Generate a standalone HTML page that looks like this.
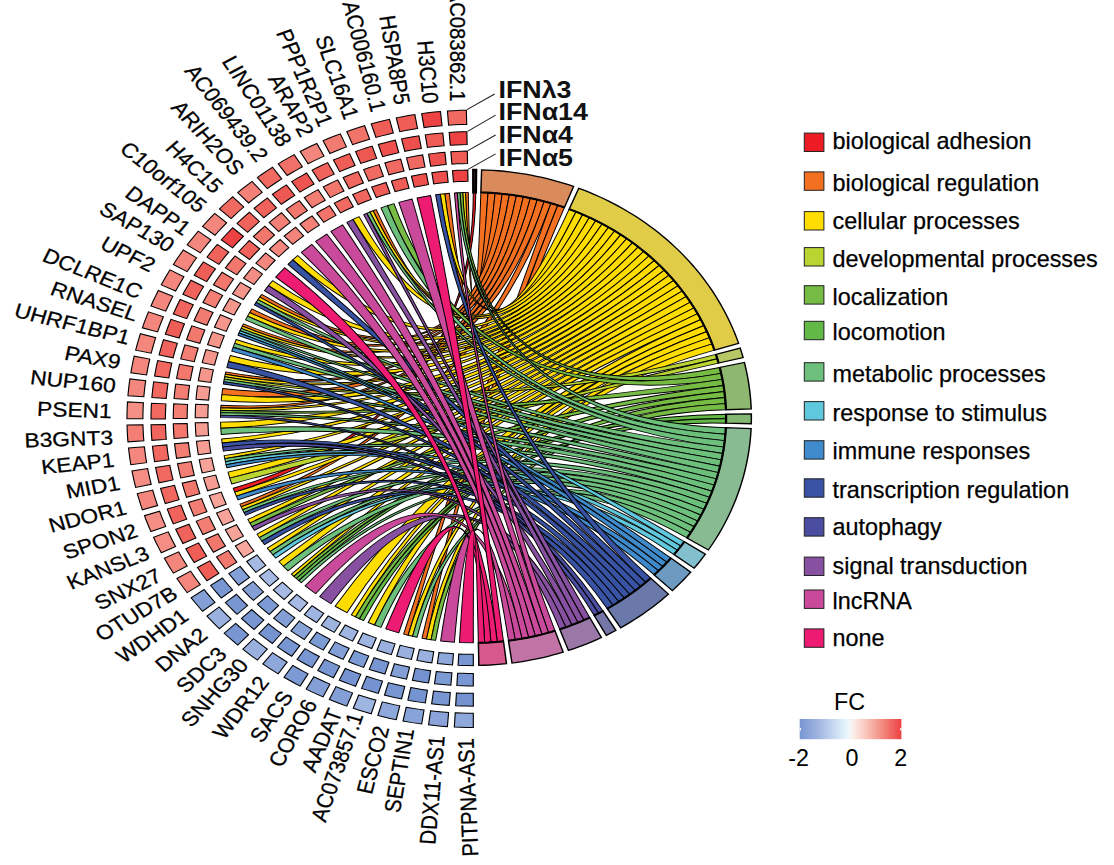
<!DOCTYPE html>
<html><head><meta charset="utf-8"><title>GOChord</title>
<style>html,body{margin:0;padding:0;background:#fff;}svg{display:block;}text{font-family:"Liberation Sans",sans-serif;}</style>
</head><body>
<svg width="1114" height="865" viewBox="0 0 1114 865">
<g transform="translate(473.3,417.6) scale(1.122,1)">
<g stroke="#000" stroke-width="0.9" stroke-linejoin="round">
<path d="M0,-225.3 Q0,0 -213.92,70.7 L-212.59,74.6 Q0,0 2.23,-225.29Z" fill="#ED1C24"/>
<path d="M6.74,-225.2 Q0,0 -4.51,-225.25 L-6.97,-225.19 Q0,0 13.1,-224.92Z" fill="#F37021"/>
<path d="M13.1,-224.92 Q0,0 -21.33,-224.29 L-25.42,-223.86 Q0,0 19.45,-224.46Z" fill="#F37021"/>
<path d="M19.45,-224.46 Q0,0 -86.49,-208.04 L-89.33,-206.83 Q0,0 25.78,-223.82Z" fill="#F37021"/>
<path d="M25.78,-223.82 Q0,0 -188.65,-123.17 L-190.32,-120.57 Q0,0 32.09,-223Z" fill="#F37021"/>
<path d="M32.09,-223 Q0,0 -197.33,-108.73 L-199.28,-105.1 Q0,0 38.38,-222.01Z" fill="#F37021"/>
<path d="M38.38,-222.01 Q0,0 -204.9,-93.67 L-205.92,-91.42 Q0,0 44.64,-220.83Z" fill="#F37021"/>
<path d="M44.64,-220.83 Q0,0 -220.61,-45.73 L-221.1,-43.31 Q0,0 50.86,-219.48Z" fill="#F37021"/>
<path d="M50.86,-219.48 Q0,0 -223.41,-29.12 L-224.12,-22.99 Q0,0 57.04,-217.96Z" fill="#F37021"/>
<path d="M57.04,-217.96 Q0,0 -224.96,-12.34 L-225.08,-9.87 Q0,0 63.17,-216.26Z" fill="#F37021"/>
<path d="M63.17,-216.26 Q0,0 -208.04,86.49 L-206.83,89.33 Q0,0 69.26,-214.39Z" fill="#F37021"/>
<path d="M69.26,-214.39 Q0,0 -62.09,216.58 L-58.12,217.67 Q0,0 75.28,-212.35Z" fill="#F37021"/>
<path d="M75.28,-212.35 Q0,0 -45.73,220.61 L-41.69,221.41 Q0,0 81.25,-210.14Z" fill="#F37021"/>
<path d="M85.44,-208.47 Q0,0 -6.97,-225.19 L-9.44,-225.1 Q0,0 91.5,-205.88Z" fill="#FFDD00"/>
<path d="M91.5,-205.88 Q0,0 -25.42,-223.86 L-29.5,-223.36 Q0,0 97.48,-203.12Z" fill="#FFDD00"/>
<path d="M97.48,-203.12 Q0,0 -89.33,-206.83 L-92.16,-205.59 Q0,0 103.38,-200.18Z" fill="#FFDD00"/>
<path d="M103.38,-200.18 Q0,0 -101.79,-200.99 L-107.26,-198.13 Q0,0 109.19,-197.07Z" fill="#FFDD00"/>
<path d="M109.19,-197.07 Q0,0 -156.52,-162.06 L-160.9,-157.71 Q0,0 114.91,-193.79Z" fill="#FFDD00"/>
<path d="M114.91,-193.79 Q0,0 -178.92,-136.92 L-182.6,-131.97 Q0,0 120.53,-190.35Z" fill="#FFDD00"/>
<path d="M120.53,-190.35 Q0,0 -190.32,-120.57 L-191.96,-117.95 Q0,0 126.05,-186.74Z" fill="#FFDD00"/>
<path d="M126.05,-186.74 Q0,0 -199.28,-105.1 L-201.17,-101.45 Q0,0 131.45,-182.98Z" fill="#FFDD00"/>
<path d="M131.45,-182.98 Q0,0 -205.92,-91.42 L-206.91,-89.16 Q0,0 136.75,-179.05Z" fill="#FFDD00"/>
<path d="M136.75,-179.05 Q0,0 -211.33,-78.1 L-212.72,-74.23 Q0,0 141.93,-174.98Z" fill="#FFDD00"/>
<path d="M141.93,-174.98 Q0,0 -216.58,-62.09 L-218.2,-56.13 Q0,0 146.99,-170.75Z" fill="#FFDD00"/>
<path d="M146.99,-170.75 Q0,0 -221.1,-43.31 L-221.56,-40.88 Q0,0 151.92,-166.38Z" fill="#FFDD00"/>
<path d="M151.92,-166.38 Q0,0 -224.12,-22.99 L-224.67,-16.84 Q0,0 156.72,-161.86Z" fill="#FFDD00"/>
<path d="M156.72,-161.86 Q0,0 -225.08,-9.87 L-225.18,-7.41 Q0,0 161.39,-157.21Z" fill="#FFDD00"/>
<path d="M161.39,-157.21 Q0,0 -225.25,4.51 L-225.05,10.68 Q0,0 165.91,-152.42Z" fill="#FFDD00"/>
<path d="M165.91,-152.42 Q0,0 -224.29,21.33 L-223.86,25.42 Q0,0 170.3,-147.5Z" fill="#FFDD00"/>
<path d="M170.3,-147.5 Q0,0 -222.07,38.03 L-221.53,41.07 Q0,0 174.54,-142.46Z" fill="#FFDD00"/>
<path d="M174.54,-142.46 Q0,0 -218.6,54.52 L-217.03,60.49 Q0,0 178.64,-137.29Z" fill="#FFDD00"/>
<path d="M178.64,-137.29 Q0,0 -212.59,74.6 L-211.19,78.47 Q0,0 182.57,-132.01Z" fill="#FFDD00"/>
<path d="M182.57,-132.01 Q0,0 -206.83,89.33 L-205.59,92.16 Q0,0 186.36,-126.61Z" fill="#FFDD00"/>
<path d="M186.36,-126.61 Q0,0 -200.99,101.79 L-199.1,105.45 Q0,0 189.98,-121.11Z" fill="#FFDD00"/>
<path d="M189.98,-121.11 Q0,0 -192.82,116.53 L-190.66,120.03 Q0,0 193.44,-115.5Z" fill="#FFDD00"/>
<path d="M193.44,-115.5 Q0,0 -183.58,130.61 L-181.16,133.94 Q0,0 196.74,-109.79Z" fill="#FFDD00"/>
<path d="M196.74,-109.79 Q0,0 -173.3,143.97 L-169.29,148.66 Q0,0 199.87,-103.99Z" fill="#FFDD00"/>
<path d="M199.87,-103.99 Q0,0 -162.06,156.52 L-159.9,158.72 Q0,0 202.82,-98.1Z" fill="#FFDD00"/>
<path d="M202.82,-98.1 Q0,0 -123.17,188.65 L-112.65,195.12 Q0,0 205.6,-92.13Z" fill="#FFDD00"/>
<path d="M205.6,-92.13 Q0,0 -108.73,197.33 L-105.1,199.28 Q0,0 208.21,-86.07Z" fill="#FFDD00"/>
<path d="M208.21,-86.07 Q0,0 -93.67,204.9 L-88.03,207.39 Q0,0 210.64,-79.95Z" fill="#FFDD00"/>
<path d="M210.64,-79.95 Q0,0 -58.12,217.67 L-54.14,218.7 Q0,0 212.89,-73.75Z" fill="#FFDD00"/>
<path d="M212.89,-73.75 Q0,0 -41.69,221.41 L-37.64,222.13 Q0,0 214.95,-67.49Z" fill="#FFDD00"/>
<path d="M216.26,-63.18 Q0,0 -221.56,-40.88 L-221.99,-38.45 Q0,0 217.48,-58.86Z" fill="#BAD532"/>
<path d="M217.48,-58.86 Q0,0 -217.03,60.49 L-215.29,66.41 Q0,0 218.6,-54.52Z" fill="#BAD532"/>
<path d="M219.65,-50.13 Q0,0 -9.44,-225.1 L-11.91,-224.99 Q0,0 220.93,-44.17Z" fill="#76BC44"/>
<path d="M220.93,-44.17 Q0,0 -70.7,-213.92 L-76.53,-211.9 Q0,0 222.04,-38.18Z" fill="#76BC44"/>
<path d="M222.04,-38.18 Q0,0 -225.18,-7.41 L-225.25,-4.94 Q0,0 222.99,-32.16Z" fill="#76BC44"/>
<path d="M222.99,-32.16 Q0,0 -199.1,105.45 L-197.14,109.07 Q0,0 223.78,-26.11Z" fill="#76BC44"/>
<path d="M223.78,-26.11 Q0,0 -159.9,158.72 L-157.71,160.9 Q0,0 224.41,-20.04Z" fill="#76BC44"/>
<path d="M224.41,-20.04 Q0,0 -105.1,199.28 L-101.45,201.17 Q0,0 224.87,-13.96Z" fill="#76BC44"/>
<path d="M224.87,-13.96 Q0,0 -37.64,222.13 L-33.58,222.78 Q0,0 225.16,-7.87Z" fill="#76BC44"/>
<path d="M225.27,-3.37 Q0,0 -157.71,160.9 L-155.49,163.04 Q0,0 225.3,1.12Z" fill="#63B946"/>
<path d="M225.3,1.12 Q0,0 -101.45,201.17 L-97.75,202.99 Q0,0 225.23,5.6Z" fill="#63B946"/>
<path d="M225.07,10.11 Q0,0 -11.91,-224.99 L-14.37,-224.84 Q0,0 224.69,16.59Z" fill="#6DC07C"/>
<path d="M224.69,16.59 Q0,0 -76.53,-211.9 L-82.31,-209.73 Q0,0 224.12,23.05Z" fill="#6DC07C"/>
<path d="M224.12,23.05 Q0,0 -92.16,-205.59 L-94.96,-204.31 Q0,0 223.36,29.5Z" fill="#6DC07C"/>
<path d="M223.36,29.5 Q0,0 -191.96,-117.95 L-193.55,-115.31 Q0,0 222.42,35.92Z" fill="#6DC07C"/>
<path d="M222.42,35.92 Q0,0 -201.17,-101.45 L-202.99,-97.75 Q0,0 221.29,42.31Z" fill="#6DC07C"/>
<path d="M221.29,42.31 Q0,0 -206.91,-89.16 L-207.87,-86.89 Q0,0 219.98,48.67Z" fill="#6DC07C"/>
<path d="M219.98,48.67 Q0,0 -212.72,-74.23 L-214.04,-70.33 Q0,0 218.49,54.98Z" fill="#6DC07C"/>
<path d="M218.49,54.98 Q0,0 -221.99,-38.45 L-222.4,-36.02 Q0,0 216.81,61.26Z" fill="#6DC07C"/>
<path d="M216.81,61.26 Q0,0 -225.25,-4.94 L-225.29,-2.47 Q0,0 214.96,67.48Z" fill="#6DC07C"/>
<path d="M214.96,67.48 Q0,0 -225.05,10.68 L-224.67,16.84 Q0,0 212.93,73.64Z" fill="#6DC07C"/>
<path d="M212.93,73.64 Q0,0 -221.53,41.07 L-220.94,44.1 Q0,0 210.72,79.74Z" fill="#6DC07C"/>
<path d="M210.72,79.74 Q0,0 -205.59,92.16 L-204.31,94.96 Q0,0 208.33,85.78Z" fill="#6DC07C"/>
<path d="M208.33,85.78 Q0,0 -190.66,120.03 L-188.44,123.49 Q0,0 205.77,91.74Z" fill="#6DC07C"/>
<path d="M205.77,91.74 Q0,0 -181.16,133.94 L-178.68,137.23 Q0,0 203.05,97.63Z" fill="#6DC07C"/>
<path d="M203.05,97.63 Q0,0 -169.29,148.66 L-165.16,153.24 Q0,0 200.15,103.44Z" fill="#6DC07C"/>
<path d="M200.15,103.44 Q0,0 -155.49,163.04 L-153.24,165.16 Q0,0 197.09,109.16Z" fill="#6DC07C"/>
<path d="M197.09,109.16 Q0,0 -88.03,207.39 L-82.31,209.73 Q0,0 193.86,114.8Z" fill="#6DC07C"/>
<path d="M193.86,114.8 Q0,0 -54.14,218.7 L-50.13,219.65 Q0,0 190.47,120.33Z" fill="#6DC07C"/>
<path d="M188.03,124.12 Q0,0 -207.87,-86.89 L-208.81,-84.6 Q0,0 185.09,128.46Z" fill="#60C8DC"/>
<path d="M185.09,128.46 Q0,0 -220.94,44.1 L-220.32,47.12 Q0,0 182.06,132.72Z" fill="#60C8DC"/>
<path d="M182.06,132.72 Q0,0 -178.68,137.23 L-176.15,140.47 Q0,0 178.92,136.92Z" fill="#60C8DC"/>
<path d="M176.15,140.47 Q0,0 -208.81,-84.6 L-209.73,-82.31 Q0,0 172.59,144.82Z" fill="#3F8ACA"/>
<path d="M172.59,144.82 Q0,0 -214.04,-70.33 L-215.29,-66.41 Q0,0 168.93,149.07Z" fill="#3F8ACA"/>
<path d="M168.93,149.07 Q0,0 -220.32,47.12 L-219.65,50.13 Q0,0 165.16,153.24Z" fill="#3F8ACA"/>
<path d="M165.16,153.24 Q0,0 -211.19,78.47 L-209.73,82.31 Q0,0 161.29,157.3Z" fill="#3F8ACA"/>
<path d="M158.12,160.5 Q0,0 -29.5,-223.36 L-33.58,-222.78 Q0,0 153.66,164.77Z" fill="#3953A4"/>
<path d="M153.66,164.77 Q0,0 -160.9,-157.71 L-165.16,-153.24 Q0,0 149.08,168.92Z" fill="#3953A4"/>
<path d="M149.08,168.92 Q0,0 -193.55,-115.31 L-195.12,-112.65 Q0,0 144.39,172.95Z" fill="#3953A4"/>
<path d="M144.39,172.95 Q0,0 -218.2,-56.13 L-219.65,-50.13 Q0,0 139.6,176.84Z" fill="#3953A4"/>
<path d="M139.6,176.84 Q0,0 -222.4,-36.02 L-222.78,-33.58 Q0,0 134.7,180.6Z" fill="#3953A4"/>
<path d="M134.7,180.6 Q0,0 -223.86,25.42 L-223.36,29.5 Q0,0 129.69,184.23Z" fill="#3953A4"/>
<path d="M129.69,184.23 Q0,0 -204.31,94.96 L-202.99,97.75 Q0,0 124.59,187.71Z" fill="#3953A4"/>
<path d="M124.59,187.71 Q0,0 -188.44,123.49 L-186.15,126.92 Q0,0 119.4,191.06Z" fill="#3953A4"/>
<path d="M115.56,193.41 Q0,0 -225.29,-2.47 L-225.3,-0 Q0,0 111.68,195.67Z" fill="#4B4DA0"/>
<path d="M111.68,195.67 Q0,0 -223.36,29.5 L-222.78,33.58 Q0,0 107.76,197.86Z" fill="#4B4DA0"/>
<path d="M103.78,199.97 Q0,0 -94.96,-204.31 L-97.75,-202.99 Q0,0 98.57,202.6Z" fill="#8750A0"/>
<path d="M98.57,202.6 Q0,0 -107.26,-198.13 L-112.65,-195.12 Q0,0 93.28,205.08Z" fill="#8750A0"/>
<path d="M93.28,205.08 Q0,0 -182.6,-131.97 L-186.15,-126.92 Q0,0 87.93,207.43Z" fill="#8750A0"/>
<path d="M87.93,207.43 Q0,0 -197.14,109.07 L-195.12,112.65 Q0,0 82.53,209.64Z" fill="#8750A0"/>
<path d="M82.53,209.64 Q0,0 -136.92,178.92 L-126.92,186.15 Q0,0 77.07,211.71Z" fill="#8750A0"/>
<path d="M72.82,213.21 Q0,0 -14.37,-224.84 L-16.84,-224.67 Q0,0 67.02,215.1Z" fill="#C9499A"/>
<path d="M67.02,215.1 Q0,0 -54.52,-218.6 L-66.41,-215.29 Q0,0 61.18,216.83Z" fill="#C9499A"/>
<path d="M61.18,216.83 Q0,0 -116.53,-192.82 L-126.92,-186.15 Q0,0 55.29,218.41Z" fill="#C9499A"/>
<path d="M55.29,218.41 Q0,0 -130.61,-183.58 L-140.47,-176.15 Q0,0 49.36,219.83Z" fill="#C9499A"/>
<path d="M49.36,219.83 Q0,0 -143.97,-173.3 L-153.24,-165.16 Q0,0 43.39,221.08Z" fill="#C9499A"/>
<path d="M43.39,221.08 Q0,0 -149.91,168.19 L-140.47,176.15 Q0,0 37.39,222.18Z" fill="#C9499A"/>
<path d="M37.39,222.18 Q0,0 -29.12,223.41 L-16.84,224.67 Q0,0 31.37,223.11Z" fill="#C9499A"/>
<path d="M26.9,223.69 Q0,0 -38.03,-222.07 L-50.13,-219.65 Q0,0 21.32,224.29Z" fill="#ED1B72"/>
<path d="M21.32,224.29 Q0,0 -168.19,-149.91 L-176.15,-140.47 Q0,0 15.72,224.75Z" fill="#ED1B72"/>
<path d="M15.72,224.75 Q0,0 -78.1,211.33 L-66.41,215.29 Q0,0 10.12,225.07Z" fill="#ED1B72"/>
<path d="M10.12,225.07 Q0,0 -12.34,224.96 L-0,225.3 Q0,0 4.51,225.25Z" fill="#ED1B72"/>
</g>
<g stroke="#000" stroke-width="1.3" stroke-linejoin="miter">
<path d="M0,-225.3 L2.23,-225.29 L2.46,-247.82 L0,-247.83Z" fill="#D6585D" stroke-width="2.2"/>
<path d="M0,-225.3 L2.23,-225.29" fill="none" stroke-width="2.0" stroke-linecap="butt"/>
<path d="M6.74,-225.2 L11.23,-225.02 L15.71,-224.75 L20.19,-224.39 L24.66,-223.95 L29.13,-223.41 L33.58,-222.78 L38.01,-222.07 L42.43,-221.27 L46.84,-220.38 L51.22,-219.4 L55.59,-218.34 L59.93,-217.18 L64.25,-215.94 L68.54,-214.62 L72.81,-213.21 L77.05,-211.72 L81.25,-210.14 L89.38,-231.15 L84.75,-232.89 L80.09,-234.53 L75.4,-236.08 L70.67,-237.54 L65.92,-238.9 L61.15,-240.17 L56.34,-241.34 L51.52,-242.42 L46.68,-243.39 L41.81,-244.28 L36.93,-245.06 L32.04,-245.75 L27.13,-246.34 L22.21,-246.83 L17.29,-247.23 L12.35,-247.52 L7.41,-247.72Z" fill="#D98B5B"/>
<path d="M6.74,-225.2 L11.23,-225.02 L15.71,-224.75 L20.19,-224.39 L24.66,-223.95 L29.13,-223.41 L33.58,-222.78 L38.01,-222.07 L42.43,-221.27 L46.84,-220.38 L51.22,-219.4 L55.59,-218.34 L59.93,-217.18 L64.25,-215.94 L68.54,-214.62 L72.81,-213.21 L77.05,-211.72 L81.25,-210.14" fill="none" stroke-width="2.0" stroke-linecap="butt"/>
<path d="M85.44,-208.47 L89.58,-206.73 L93.69,-204.9 L97.75,-202.99 L101.78,-201 L105.77,-198.93 L109.72,-196.78 L113.62,-194.55 L117.48,-192.25 L121.29,-189.87 L125.05,-187.41 L128.76,-184.88 L132.43,-182.27 L136.03,-179.6 L139.59,-176.85 L143.09,-174.03 L146.53,-171.14 L149.91,-168.18 L153.24,-165.16 L156.5,-162.07 L159.7,-158.92 L162.84,-155.7 L165.91,-152.42 L168.92,-149.08 L171.86,-145.68 L174.73,-142.23 L177.53,-138.71 L180.27,-135.15 L182.93,-131.52 L185.51,-127.85 L188.02,-124.12 L190.46,-120.35 L192.83,-116.53 L195.11,-112.66 L197.32,-108.74 L199.45,-104.79 L201.5,-100.79 L203.47,-96.75 L205.36,-92.67 L207.17,-88.56 L208.89,-84.41 L210.53,-80.23 L212.09,-76.01 L213.56,-71.77 L214.95,-67.49 L236.45,-74.24 L234.92,-78.94 L233.3,-83.61 L231.59,-88.25 L229.78,-92.85 L227.88,-97.41 L225.89,-101.94 L223.82,-106.42 L221.65,-110.87 L219.39,-115.27 L217.05,-119.62 L214.62,-123.92 L212.11,-128.18 L209.51,-132.38 L206.83,-136.54 L204.06,-140.63 L201.22,-144.68 L198.29,-148.66 L195.29,-152.59 L192.21,-156.45 L189.05,-160.25 L185.81,-163.99 L182.51,-167.66 L179.13,-171.27 L175.67,-174.81 L172.15,-178.28 L168.56,-181.68 L164.91,-185 L161.18,-188.25 L157.4,-191.43 L153.55,-194.53 L149.64,-197.56 L145.67,-200.5 L141.64,-203.37 L137.56,-206.15 L133.42,-208.85 L129.23,-211.47 L124.98,-214.01 L120.69,-216.46 L116.35,-218.82 L111.96,-221.1 L107.53,-223.29 L103.05,-225.39 L98.54,-227.4 L93.98,-229.32Z" fill="#E1CC48"/>
<path d="M85.44,-208.47 L89.58,-206.73 L93.69,-204.9 L97.75,-202.99 L101.78,-201 L105.77,-198.93 L109.72,-196.78 L113.62,-194.55 L117.48,-192.25 L121.29,-189.87 L125.05,-187.41 L128.76,-184.88 L132.43,-182.27 L136.03,-179.6 L139.59,-176.85 L143.09,-174.03 L146.53,-171.14 L149.91,-168.18 L153.24,-165.16 L156.5,-162.07 L159.7,-158.92 L162.84,-155.7 L165.91,-152.42 L168.92,-149.08 L171.86,-145.68 L174.73,-142.23 L177.53,-138.71 L180.27,-135.15 L182.93,-131.52 L185.51,-127.85 L188.02,-124.12 L190.46,-120.35 L192.83,-116.53 L195.11,-112.66 L197.32,-108.74 L199.45,-104.79 L201.5,-100.79 L203.47,-96.75 L205.36,-92.67 L207.17,-88.56 L208.89,-84.41 L210.53,-80.23 L212.09,-76.01 L213.56,-71.77 L214.95,-67.49" fill="none" stroke-width="2.0" stroke-linecap="butt"/>
<path d="M216.26,-63.18 L217.48,-58.86 L218.6,-54.52 L240.47,-59.97 L239.22,-64.75 L237.89,-69.5Z" fill="#B7C766"/>
<path d="M216.26,-63.18 L217.48,-58.86 L218.6,-54.52" fill="none" stroke-width="2.0" stroke-linecap="butt"/>
<path d="M219.65,-50.13 L220.56,-45.96 L221.39,-41.78 L222.14,-37.58 L222.82,-33.36 L223.41,-29.14 L223.92,-24.9 L224.35,-20.65 L224.7,-16.4 L224.97,-12.14 L225.16,-7.87 L247.68,-8.66 L247.47,-13.35 L247.17,-18.04 L246.79,-22.72 L246.31,-27.39 L245.75,-32.05 L245.1,-36.7 L244.36,-41.33 L243.53,-45.96 L242.62,-50.56 L241.62,-55.15Z" fill="#8EB870"/>
<path d="M219.65,-50.13 L220.56,-45.96 L221.39,-41.78 L222.14,-37.58 L222.82,-33.36 L223.41,-29.14 L223.92,-24.9 L224.35,-20.65 L224.7,-16.4 L224.97,-12.14 L225.16,-7.87" fill="none" stroke-width="2.0" stroke-linecap="butt"/>
<path d="M225.27,-3.37 L225.3,1.12 L225.23,5.6 L247.75,6.17 L247.83,1.23 L247.8,-3.71Z" fill="#83B772"/>
<path d="M225.27,-3.37 L225.3,1.12 L225.23,5.6" fill="none" stroke-width="2.0" stroke-linecap="butt"/>
<path d="M225.07,10.11 L224.83,14.59 L224.49,19.08 L224.07,23.55 L223.55,28.01 L222.95,32.47 L222.26,36.91 L221.48,41.33 L220.61,45.74 L219.65,50.13 L218.61,54.5 L217.48,58.85 L216.26,63.17 L214.96,67.48 L213.57,71.75 L212.1,75.99 L210.54,80.21 L208.9,84.39 L207.17,88.54 L205.37,92.65 L203.48,96.73 L201.51,100.77 L199.46,104.77 L197.33,108.73 L195.12,112.64 L192.84,116.51 L190.47,120.33 L209.52,132.37 L212.12,128.16 L214.63,123.9 L217.06,119.6 L219.4,115.25 L221.66,110.85 L223.82,106.41 L225.9,101.92 L227.89,97.39 L229.79,92.83 L231.59,88.23 L233.31,83.59 L234.93,78.92 L236.45,74.22 L237.89,69.49 L239.23,64.73 L240.47,59.95 L241.62,55.14 L242.67,50.31 L243.62,45.46 L244.48,40.6 L245.24,35.71 L245.91,30.81 L246.47,25.9 L246.94,20.98 L247.31,16.05 L247.58,11.12Z" fill="#89BB92"/>
<path d="M225.07,10.11 L224.83,14.59 L224.49,19.08 L224.07,23.55 L223.55,28.01 L222.95,32.47 L222.26,36.91 L221.48,41.33 L220.61,45.74 L219.65,50.13 L218.61,54.5 L217.48,58.85 L216.26,63.17 L214.96,67.48 L213.57,71.75 L212.1,75.99 L210.54,80.21 L208.9,84.39 L207.17,88.54 L205.37,92.65 L203.48,96.73 L201.51,100.77 L199.46,104.77 L197.33,108.73 L195.12,112.64 L192.84,116.51 L190.47,120.33" fill="none" stroke-width="2.0" stroke-linecap="butt"/>
<path d="M188.03,124.12 L185.84,127.38 L183.59,130.6 L181.28,133.78 L178.92,136.92 L196.81,150.61 L199.41,147.16 L201.95,143.66 L204.42,140.11 L206.83,136.53Z" fill="#81C0CC"/>
<path d="M188.03,124.12 L185.84,127.38 L183.59,130.6 L181.28,133.78 L178.92,136.92" fill="none" stroke-width="2.0" stroke-linecap="butt"/>
<path d="M176.15,140.47 L173.31,143.96 L170.41,147.38 L167.44,150.75 L164.4,154.06 L161.29,157.3 L177.42,173.03 L180.84,169.46 L184.18,165.82 L187.45,162.12 L190.64,158.35 L193.76,154.52Z" fill="#6D9AC1"/>
<path d="M176.15,140.47 L173.31,143.96 L170.41,147.38 L167.44,150.75 L164.4,154.06 L161.29,157.3" fill="none" stroke-width="2.0" stroke-linecap="butt"/>
<path d="M158.12,160.5 L154.88,163.62 L151.59,166.68 L148.24,169.66 L144.82,172.59 L141.35,175.44 L137.83,178.22 L134.25,180.94 L130.61,183.58 L126.92,186.15 L123.19,188.64 L119.4,191.06 L131.34,210.16 L135.51,207.5 L139.62,204.76 L143.67,201.94 L147.67,199.03 L151.61,196.05 L155.49,192.98 L159.31,189.85 L163.06,186.63 L166.75,183.34 L170.37,179.98 L173.93,176.55Z" fill="#6A79AA"/>
<path d="M158.12,160.5 L154.88,163.62 L151.59,166.68 L148.24,169.66 L144.82,172.59 L141.35,175.44 L137.83,178.22 L134.25,180.94 L130.61,183.58 L126.92,186.15 L123.19,188.64 L119.4,191.06" fill="none" stroke-width="2.0" stroke-linecap="butt"/>
<path d="M115.56,193.41 L111.68,195.67 L107.76,197.86 L118.54,217.64 L122.85,215.24 L127.11,212.75Z" fill="#7576A8"/>
<path d="M115.56,193.41 L111.68,195.67 L107.76,197.86" fill="none" stroke-width="2.0" stroke-linecap="butt"/>
<path d="M103.78,199.97 L100.06,201.86 L96.31,203.68 L92.52,205.43 L88.7,207.1 L84.85,208.71 L80.97,210.25 L77.07,211.71 L84.78,232.88 L89.07,231.27 L93.34,229.58 L97.57,227.81 L101.77,225.97 L105.94,224.05 L110.07,222.05 L114.16,219.97Z" fill="#9978A8"/>
<path d="M103.78,199.97 L100.06,201.86 L96.31,203.68 L92.52,205.43 L88.7,207.1 L84.85,208.71 L80.97,210.25 L77.07,211.71" fill="none" stroke-width="2.0" stroke-linecap="butt"/>
<path d="M72.82,213.21 L68.77,214.55 L64.69,215.81 L60.59,217 L56.47,218.11 L52.33,219.14 L48.17,220.09 L43.99,220.96 L39.8,221.76 L35.59,222.47 L31.37,223.11 L34.5,245.42 L39.15,244.72 L43.78,243.93 L48.39,243.06 L52.98,242.1 L57.56,241.05 L62.12,239.92 L66.65,238.7 L71.16,237.39 L75.64,236 L80.1,234.53Z" fill="#C073A4"/>
<path d="M72.82,213.21 L68.77,214.55 L64.69,215.81 L60.59,217 L56.47,218.11 L52.33,219.14 L48.17,220.09 L43.99,220.96 L39.8,221.76 L35.59,222.47 L31.37,223.11" fill="none" stroke-width="2.0" stroke-linecap="butt"/>
<path d="M26.9,223.69 L22.44,224.18 L17.96,224.58 L13.48,224.9 L9,225.12 L4.51,225.25 L4.96,247.78 L9.89,247.63 L14.83,247.39 L19.76,247.04 L24.68,246.6 L29.59,246.06Z" fill="#D6588C"/>
<path d="M26.9,223.69 L22.44,224.18 L17.96,224.58 L13.48,224.9 L9,225.12 L4.51,225.25" fill="none" stroke-width="2.0" stroke-linecap="butt"/>
</g>
<g stroke="#000" stroke-width="1.0" stroke-linejoin="miter">
<path d="M-5.89,-293.21 L-11.27,-293.05 L-16.64,-292.8 L-22.01,-292.44 L-23.07,-306.6 L-17.44,-306.97 L-11.81,-307.24 L-6.17,-307.4Z" fill="#F06A62"/>
<path d="M-5.49,-273.06 L-10.5,-272.91 L-15.51,-272.68 L-20.51,-272.35 L-21.47,-285.15 L-16.23,-285.5 L-10.99,-285.75 L-5.74,-285.9Z" fill="#EC4244"/>
<path d="M-5.1,-254.09 L-9.76,-253.95 L-14.41,-253.73 L-19.06,-253.43 L-19.99,-265.78 L-15.11,-266.1 L-10.23,-266.34 L-5.35,-266.48Z" fill="#EF5D57"/>
<path d="M-4.73,-236.32 L-9.05,-236.19 L-13.37,-235.99 L-17.68,-235.7 L-18.52,-246.94 L-14,-247.23 L-9.48,-247.45 L-4.96,-247.58Z" fill="#EC4244"/>
<path d="M-27.87,-291.94 L-33.22,-291.39 L-38.56,-290.73 L-43.89,-289.98 L-46,-304.01 L-40.42,-304.8 L-34.82,-305.49 L-29.22,-306.08Z" fill="#EC4244"/>
<path d="M-25.98,-271.88 L-30.96,-271.36 L-35.94,-270.75 L-40.9,-270.05 L-42.81,-282.75 L-37.62,-283.48 L-32.41,-284.12 L-27.19,-284.67Z" fill="#EF5D57"/>
<path d="M-24.14,-252.99 L-28.78,-252.51 L-33.4,-251.94 L-38.01,-251.29 L-39.86,-263.54 L-35.02,-264.23 L-30.17,-264.82 L-25.31,-265.33Z" fill="#EE504E"/>
<path d="M-22.39,-235.3 L-26.69,-234.85 L-30.98,-234.33 L-35.26,-233.72 L-36.94,-244.86 L-32.45,-245.5 L-27.96,-246.05 L-23.46,-246.52Z" fill="#EE504E"/>
<path d="M-49.7,-289.04 L-55,-288.09 L-60.27,-287.03 L-65.53,-285.88 L-68.68,-299.72 L-63.18,-300.93 L-57.65,-302.03 L-52.1,-303.03Z" fill="#EF5D57"/>
<path d="M-46.32,-269.18 L-51.25,-268.29 L-56.17,-267.31 L-61.06,-266.24 L-63.92,-278.76 L-58.79,-279.88 L-53.65,-280.9 L-48.49,-281.84Z" fill="#EE504E"/>
<path d="M-43.05,-250.48 L-47.63,-249.65 L-52.2,-248.74 L-56.75,-247.75 L-59.51,-259.83 L-54.74,-260.87 L-49.95,-261.83 L-45.14,-262.69Z" fill="#F06A62"/>
<path d="M-39.93,-232.97 L-44.18,-232.2 L-48.42,-231.36 L-52.64,-230.43 L-55.15,-241.42 L-50.72,-242.38 L-46.29,-243.27 L-41.83,-244.07Z" fill="#EE504E"/>
<path d="M-71.25,-284.52 L-76.46,-283.17 L-81.64,-281.72 L-86.8,-280.18 L-90.98,-293.75 L-85.58,-295.36 L-80.15,-296.87 L-74.69,-298.29Z" fill="#EF5D57"/>
<path d="M-66.4,-264.96 L-71.25,-263.7 L-76.08,-262.36 L-80.89,-260.92 L-84.67,-273.2 L-79.64,-274.7 L-74.59,-276.1 L-69.51,-277.42Z" fill="#EE504E"/>
<path d="M-61.71,-246.56 L-66.22,-245.39 L-70.71,-244.14 L-75.17,-242.81 L-78.83,-254.65 L-74.15,-256.05 L-69.44,-257.36 L-64.71,-258.58Z" fill="#F06A62"/>
<path d="M-57.24,-229.33 L-61.43,-228.25 L-65.59,-227.09 L-69.73,-225.86 L-73.05,-236.62 L-68.71,-237.91 L-64.35,-239.13 L-59.97,-240.27Z" fill="#EF5D57"/>
<path d="M-92.41,-278.39 L-97.5,-276.66 L-102.56,-274.83 L-107.58,-272.91 L-112.77,-286.12 L-107.5,-288.14 L-102.2,-290.05 L-96.86,-291.87Z" fill="#F17369"/>
<path d="M-86.11,-259.25 L-90.86,-257.64 L-95.57,-255.93 L-100.26,-254.15 L-104.95,-266.1 L-100.05,-267.97 L-95.11,-269.76 L-90.14,-271.45Z" fill="#EE5853"/>
<path d="M-80.03,-241.26 L-84.44,-239.75 L-88.82,-238.17 L-93.18,-236.51 L-97.7,-248.04 L-93.14,-249.79 L-88.55,-251.45 L-83.92,-253.02Z" fill="#F06A62"/>
<path d="M-74.24,-224.42 L-78.33,-223.02 L-82.39,-221.55 L-86.43,-220.01 L-90.54,-230.5 L-86.31,-232.11 L-82.06,-233.65 L-77.77,-235.11Z" fill="#EF5D57"/>
<path d="M-113.04,-270.71 L-117.99,-268.6 L-122.9,-266.4 L-127.76,-264.11 L-133.92,-276.89 L-128.82,-279.29 L-123.68,-281.6 L-118.49,-283.81Z" fill="#F27B71"/>
<path d="M-105.34,-252.09 L-109.95,-250.12 L-114.53,-248.07 L-119.06,-245.94 L-124.64,-257.51 L-119.89,-259.74 L-115.1,-261.89 L-110.27,-263.95Z" fill="#EF5D57"/>
<path d="M-97.91,-234.6 L-102.19,-232.77 L-106.44,-230.87 L-110.66,-228.88 L-116.03,-240.05 L-111.61,-242.13 L-107.16,-244.12 L-102.66,-246.04Z" fill="#F06860"/>
<path d="M-90.81,-218.24 L-94.79,-216.54 L-98.73,-214.78 L-102.64,-212.94 L-107.53,-223.09 L-103.43,-225.01 L-99.3,-226.87 L-95.14,-228.64Z" fill="#F0655E"/>
<path d="M-133.04,-261.5 L-137.82,-259.02 L-142.55,-256.46 L-147.23,-253.82 L-154.33,-266.11 L-149.42,-268.88 L-144.46,-271.57 L-139.46,-274.16Z" fill="#F4877D"/>
<path d="M-123.99,-243.51 L-128.44,-241.2 L-132.84,-238.82 L-137.21,-236.35 L-143.63,-247.47 L-139.06,-250.05 L-134.45,-252.55 L-129.79,-254.97Z" fill="#F0625C"/>
<path d="M-115.23,-226.62 L-119.37,-224.48 L-123.46,-222.26 L-127.52,-219.97 L-133.72,-230.7 L-129.46,-233.11 L-125.17,-235.43 L-120.83,-237.68Z" fill="#F2786E"/>
<path d="M-106.88,-210.84 L-110.72,-208.85 L-114.52,-206.8 L-118.28,-204.67 L-123.92,-214.43 L-119.97,-216.65 L-115.99,-218.81 L-111.97,-220.89Z" fill="#F06A62"/>
<path d="M-152.3,-250.82 L-156.88,-248 L-161.41,-245.09 L-165.88,-242.1 L-173.87,-253.83 L-169.19,-256.96 L-164.44,-260.01 L-159.65,-262.97Z" fill="#F17067"/>
<path d="M-141.93,-233.56 L-146.2,-230.93 L-150.42,-228.22 L-154.58,-225.43 L-161.82,-236.04 L-157.46,-238.96 L-153.04,-241.8 L-148.58,-244.55Z" fill="#EE5551"/>
<path d="M-131.91,-217.38 L-135.88,-214.93 L-139.8,-212.41 L-143.67,-209.82 L-150.65,-220.06 L-146.59,-222.78 L-142.48,-225.42 L-138.32,-227.98Z" fill="#F37E74"/>
<path d="M-122.36,-202.26 L-126.03,-200 L-129.67,-197.66 L-133.26,-195.26 L-139.61,-204.57 L-135.84,-207.08 L-132.04,-209.53 L-128.18,-211.91Z" fill="#F17369"/>
<path d="M-170.71,-238.73 L-175.07,-235.58 L-179.36,-232.34 L-183.6,-229.02 L-192.45,-240.12 L-188.01,-243.6 L-183.5,-246.99 L-178.94,-250.3Z" fill="#F06A62"/>
<path d="M-159.09,-222.3 L-163.14,-219.35 L-167.15,-216.34 L-171.1,-213.25 L-179.1,-223.29 L-174.97,-226.52 L-170.78,-229.68 L-166.53,-232.76Z" fill="#EE5853"/>
<path d="M-147.85,-206.91 L-151.63,-204.17 L-155.35,-201.37 L-159.01,-198.5 L-166.74,-208.19 L-162.89,-211.2 L-158.99,-214.14 L-155.04,-217Z" fill="#F2786E"/>
<path d="M-137.14,-192.56 L-140.64,-190.02 L-144.09,-187.42 L-147.5,-184.75 L-154.52,-193.56 L-150.95,-196.35 L-147.34,-199.08 L-143.67,-201.73Z" fill="#F38177"/>
<path d="M-188.16,-225.31 L-192.27,-221.83 L-196.31,-218.28 L-200.29,-214.66 L-209.94,-225.06 L-205.77,-228.86 L-201.54,-232.58 L-197.23,-236.22Z" fill="#F38177"/>
<path d="M-175.35,-209.78 L-179.18,-206.54 L-182.94,-203.24 L-186.65,-199.86 L-195.38,-209.27 L-191.51,-212.81 L-187.56,-216.27 L-183.56,-219.66Z" fill="#F0625C"/>
<path d="M-162.97,-195.28 L-166.53,-192.27 L-170.03,-189.19 L-173.47,-186.06 L-181.9,-195.14 L-178.29,-198.43 L-174.62,-201.65 L-170.89,-204.81Z" fill="#F38076"/>
<path d="M-151.17,-181.77 L-154.46,-178.98 L-157.71,-176.12 L-160.91,-173.21 L-168.57,-181.47 L-165.22,-184.52 L-161.82,-187.51 L-158.36,-190.43Z" fill="#F3847A"/>
<path d="M-204.57,-210.61 L-208.4,-206.84 L-212.17,-203 L-215.86,-199.09 L-226.26,-208.74 L-222.39,-212.84 L-218.45,-216.87 L-214.43,-220.82Z" fill="#F06A62"/>
<path d="M-190.64,-196.09 L-194.21,-192.57 L-197.72,-188.99 L-201.16,-185.35 L-210.57,-194.08 L-206.97,-197.9 L-203.3,-201.65 L-199.56,-205.33Z" fill="#F0625C"/>
<path d="M-177.18,-182.55 L-180.5,-179.28 L-183.76,-175.96 L-186.96,-172.57 L-196.04,-181 L-192.69,-184.55 L-189.27,-188.04 L-185.78,-191.46Z" fill="#F2786E"/>
<path d="M-164.34,-169.96 L-167.42,-166.93 L-170.45,-163.85 L-173.41,-160.71 L-181.67,-168.37 L-178.56,-171.66 L-175.39,-174.89 L-172.17,-178.06Z" fill="#F4877D"/>
<path d="M-219.82,-194.73 L-223.36,-190.68 L-226.83,-186.57 L-230.22,-182.4 L-241.32,-191.25 L-237.77,-195.62 L-234.13,-199.93 L-230.42,-204.18Z" fill="#F4877D"/>
<path d="M-204.85,-181.29 L-208.15,-177.52 L-211.39,-173.69 L-214.55,-169.8 L-224.59,-177.8 L-221.28,-181.87 L-217.9,-185.89 L-214.44,-189.83Z" fill="#EC4244"/>
<path d="M-190.39,-168.8 L-193.46,-165.29 L-196.46,-161.73 L-199.4,-158.11 L-209.09,-165.84 L-206.01,-169.63 L-202.86,-173.37 L-199.64,-177.04Z" fill="#F0625C"/>
<path d="M-176.6,-157.2 L-179.44,-153.95 L-182.23,-150.65 L-184.95,-147.3 L-193.76,-154.32 L-190.91,-157.83 L-187.99,-161.29 L-185.01,-164.7Z" fill="#F4877D"/>
<path d="M-233.85,-177.76 L-237.08,-173.46 L-240.23,-169.1 L-243.3,-164.68 L-255.03,-172.67 L-251.81,-177.3 L-248.51,-181.87 L-245.12,-186.38Z" fill="#F4877D"/>
<path d="M-217.93,-165.47 L-220.94,-161.46 L-223.87,-157.4 L-226.73,-153.28 L-237.34,-160.52 L-234.35,-164.83 L-231.27,-169.08 L-228.12,-173.27Z" fill="#F0625C"/>
<path d="M-202.54,-154.1 L-205.34,-150.37 L-208.06,-146.59 L-210.72,-142.77 L-220.96,-149.75 L-218.17,-153.76 L-215.31,-157.72 L-212.38,-161.63Z" fill="#F2786E"/>
<path d="M-187.87,-143.57 L-190.46,-140.11 L-192.99,-136.61 L-195.46,-133.06 L-204.77,-139.41 L-202.18,-143.12 L-199.53,-146.79 L-196.81,-150.41Z" fill="#F48D83"/>
<path d="M-246.57,-159.78 L-249.47,-155.25 L-252.28,-150.67 L-255.02,-146.03 L-267.31,-153.13 L-264.44,-157.99 L-261.49,-162.79 L-258.45,-167.54Z" fill="#F4877D"/>
<path d="M-229.78,-148.72 L-232.48,-144.5 L-235.1,-140.23 L-237.65,-135.91 L-248.77,-142.33 L-246.11,-146.85 L-243.36,-151.32 L-240.53,-155.74Z" fill="#EF5D57"/>
<path d="M-213.55,-138.53 L-216.07,-134.6 L-218.5,-130.63 L-220.87,-126.62 L-231.6,-132.82 L-229.12,-137.02 L-226.56,-141.19 L-223.93,-145.3Z" fill="#F2786E"/>
<path d="M-198.09,-129.13 L-200.41,-125.49 L-202.68,-121.8 L-204.87,-118.08 L-214.63,-123.72 L-212.33,-127.61 L-209.96,-131.47 L-207.52,-135.28Z" fill="#F5968C"/>
<path d="M-257.91,-140.9 L-260.46,-136.17 L-262.93,-131.39 L-265.31,-126.56 L-278.09,-132.72 L-275.6,-137.78 L-273.02,-142.79 L-270.34,-147.75Z" fill="#F4877D"/>
<path d="M-240.35,-131.13 L-242.73,-126.72 L-245.02,-122.26 L-247.24,-117.76 L-258.81,-123.34 L-256.49,-128.04 L-254.09,-132.71 L-251.59,-137.32Z" fill="#F0625C"/>
<path d="M-223.38,-122.18 L-225.59,-118.08 L-227.72,-113.94 L-229.78,-109.76 L-240.95,-115.13 L-238.79,-119.52 L-236.55,-123.86 L-234.23,-128.16Z" fill="#F37E74"/>
<path d="M-207.2,-113.96 L-209.25,-110.16 L-211.23,-106.32 L-213.14,-102.44 L-223.29,-107.33 L-221.29,-111.39 L-219.21,-115.41 L-217.06,-119.4Z" fill="#F5968C"/>
<path d="M-267.81,-121.23 L-270,-116.32 L-272.1,-111.37 L-274.11,-106.38 L-287.32,-111.57 L-285.22,-116.8 L-283.01,-121.99 L-280.72,-127.13Z" fill="#F4877D"/>
<path d="M-249.57,-112.8 L-251.61,-108.22 L-253.57,-103.6 L-255.45,-98.96 L-267.4,-103.65 L-265.44,-108.51 L-263.39,-113.34 L-261.25,-118.14Z" fill="#F0655E"/>
<path d="M-231.95,-105.14 L-233.85,-100.89 L-235.67,-96.6 L-237.41,-92.28 L-248.94,-96.8 L-247.12,-101.33 L-245.21,-105.83 L-243.22,-110.29Z" fill="#F27B71"/>
<path d="M-215.15,-98.16 L-216.91,-94.21 L-218.6,-90.23 L-220.21,-86.23 L-230.7,-90.34 L-229.01,-94.54 L-227.24,-98.71 L-225.39,-102.84Z" fill="#F5968C"/>
<path d="M-276.21,-100.88 L-278.03,-95.82 L-279.75,-90.72 L-281.38,-85.6 L-294.95,-89.78 L-293.24,-95.15 L-291.43,-100.49 L-289.52,-105.8Z" fill="#F4877D"/>
<path d="M-257.4,-93.83 L-259.09,-89.11 L-260.7,-84.36 L-262.22,-79.59 L-274.5,-83.37 L-272.9,-88.37 L-271.22,-93.34 L-269.45,-98.28Z" fill="#EF5D57"/>
<path d="M-239.23,-87.51 L-240.8,-83.13 L-242.3,-78.71 L-243.71,-74.27 L-255.55,-77.93 L-254.07,-82.58 L-252.5,-87.21 L-250.85,-91.81Z" fill="#F2786E"/>
<path d="M-221.9,-81.81 L-223.36,-77.74 L-224.74,-73.65 L-226.06,-69.53 L-236.82,-72.85 L-235.45,-77.16 L-233.99,-81.45 L-232.46,-85.71Z" fill="#F5968C"/>
<path d="M-283.06,-79.95 L-284.5,-74.77 L-285.84,-69.56 L-287.08,-64.33 L-300.92,-67.48 L-299.62,-72.97 L-298.21,-78.43 L-296.71,-83.86Z" fill="#F4877D"/>
<path d="M-263.79,-74.33 L-265.13,-69.49 L-266.38,-64.64 L-267.54,-59.76 L-280.06,-62.62 L-278.84,-67.73 L-277.53,-72.81 L-276.13,-77.86Z" fill="#F0625C"/>
<path d="M-245.16,-69.39 L-246.41,-64.9 L-247.57,-60.38 L-248.65,-55.85 L-260.73,-58.61 L-259.6,-63.36 L-258.38,-68.09 L-257.08,-72.8Z" fill="#F37E74"/>
<path d="M-227.4,-64.99 L-228.56,-60.83 L-229.63,-56.64 L-230.63,-52.44 L-241.62,-54.95 L-240.57,-59.35 L-239.44,-63.74 L-238.23,-68.1Z" fill="#F5968C"/>
<path d="M-288.34,-58.57 L-289.38,-53.29 L-290.33,-48 L-291.18,-42.69 L-305.21,-44.8 L-304.32,-50.37 L-303.33,-55.92 L-302.24,-61.45Z" fill="#F4877D"/>
<path d="M-268.7,-54.4 L-269.68,-49.48 L-270.56,-44.55 L-271.35,-39.6 L-284.05,-41.51 L-283.22,-46.69 L-282.3,-51.86 L-281.28,-57.01Z" fill="#F06860"/>
<path d="M-249.73,-50.87 L-250.63,-46.3 L-251.45,-41.71 L-252.19,-37.11 L-264.44,-38.96 L-263.67,-43.78 L-262.81,-48.59 L-261.86,-53.38Z" fill="#F2786E"/>
<path d="M-231.64,-47.82 L-232.48,-43.58 L-233.24,-39.33 L-233.92,-35.06 L-245.06,-36.74 L-244.35,-41.21 L-243.55,-45.66 L-242.67,-50.1Z" fill="#F5968C"/>
<path d="M-292,-36.86 L-292.64,-31.52 L-293.19,-26.17 L-293.64,-20.81 L-307.8,-21.87 L-307.33,-27.48 L-306.75,-33.09 L-306.07,-38.69Z" fill="#F4877D"/>
<path d="M-272.11,-34.16 L-272.72,-29.19 L-273.23,-24.2 L-273.65,-19.21 L-286.45,-20.17 L-286.01,-25.4 L-285.48,-30.62 L-284.85,-35.82Z" fill="#F06860"/>
<path d="M-252.9,-32.06 L-253.46,-27.44 L-253.94,-22.8 L-254.33,-18.16 L-266.68,-19.09 L-266.27,-23.95 L-265.78,-28.81 L-265.19,-33.66Z" fill="#F37E74"/>
<path d="M-234.58,-30.37 L-235.1,-26.08 L-235.54,-21.78 L-235.9,-17.48 L-247.14,-18.32 L-246.76,-22.83 L-246.3,-27.33 L-245.75,-31.83Z" fill="#F69D93"/>
<path d="M-294.03,-14.93 L-294.27,-9.56 L-294.42,-4.18 L-294.47,1.2 L-308.66,1.2 L-308.61,-4.44 L-308.46,-10.07 L-308.2,-15.71Z" fill="#F49086"/>
<path d="M-274,-13.73 L-274.23,-8.72 L-274.37,-3.71 L-274.42,1.3 L-287.26,1.3 L-287.21,-3.95 L-287.07,-9.19 L-286.83,-14.43Z" fill="#F06860"/>
<path d="M-254.66,-13.07 L-254.87,-8.42 L-255,-3.76 L-255.04,0.9 L-267.43,0.9 L-267.39,-3.98 L-267.25,-8.87 L-267.03,-13.75Z" fill="#F37E74"/>
<path d="M-236.21,-12.76 L-236.41,-8.44 L-236.53,-4.12 L-236.57,0.2 L-247.83,0.2 L-247.79,-4.33 L-247.66,-8.85 L-247.46,-13.37Z" fill="#F69D93"/>
<path d="M-294.41,7.09 L-294.25,12.47 L-294,17.84 L-293.64,23.21 L-307.8,24.27 L-308.17,18.64 L-308.44,13.01 L-308.6,7.37Z" fill="#F37E74"/>
<path d="M-274.36,6.79 L-274.21,11.8 L-273.98,16.81 L-273.65,21.81 L-286.45,22.77 L-286.8,17.53 L-287.05,12.29 L-287.2,7.04Z" fill="#F0655E"/>
<path d="M-254.99,6 L-254.85,10.66 L-254.63,15.31 L-254.33,19.96 L-266.68,20.89 L-267,16.01 L-267.24,11.13 L-267.38,6.25Z" fill="#F2786E"/>
<path d="M-236.52,4.93 L-236.39,9.25 L-236.19,13.57 L-235.9,17.88 L-247.14,18.72 L-247.43,14.2 L-247.65,9.68 L-247.78,5.16Z" fill="#F69D93"/>
<path d="M-293.14,29.07 L-292.59,34.42 L-291.93,39.76 L-291.18,45.09 L-305.21,47.2 L-306,41.62 L-306.69,36.02 L-307.28,30.42Z" fill="#F4877D"/>
<path d="M-273.18,27.28 L-272.66,32.26 L-272.05,37.24 L-271.35,42.2 L-284.05,44.11 L-284.78,38.92 L-285.42,33.71 L-285.97,28.49Z" fill="#F06860"/>
<path d="M-253.89,25.04 L-253.41,29.68 L-252.84,34.3 L-252.19,38.91 L-264.44,40.76 L-265.13,35.92 L-265.72,31.07 L-266.23,26.21Z" fill="#F37E74"/>
<path d="M-235.5,22.59 L-235.05,26.89 L-234.53,31.18 L-233.92,35.46 L-245.06,37.14 L-245.7,32.65 L-246.25,28.16 L-246.72,23.66Z" fill="#F69D93"/>
<path d="M-290.24,50.9 L-289.29,56.2 L-288.23,61.47 L-287.08,66.73 L-300.92,69.88 L-302.13,64.38 L-303.23,58.85 L-304.23,53.3Z" fill="#F48D83"/>
<path d="M-270.48,47.62 L-269.59,52.55 L-268.61,57.47 L-267.54,62.36 L-280.06,65.22 L-281.18,60.09 L-282.2,54.95 L-283.14,49.79Z" fill="#F06860"/>
<path d="M-251.38,43.95 L-250.55,48.53 L-249.64,53.1 L-248.65,57.65 L-260.73,60.41 L-261.77,55.64 L-262.73,50.85 L-263.59,46.04Z" fill="#F37E74"/>
<path d="M-233.17,40.13 L-232.4,44.38 L-231.56,48.62 L-230.63,52.84 L-241.62,55.35 L-242.58,50.92 L-243.47,46.49 L-244.27,42.03Z" fill="#F6A49A"/>
<path d="M-285.72,72.45 L-284.37,77.66 L-282.92,82.84 L-281.38,88 L-294.95,92.18 L-296.56,86.78 L-298.07,81.35 L-299.49,75.89Z" fill="#F4877D"/>
<path d="M-266.26,67.7 L-265,72.55 L-263.66,77.38 L-262.22,82.19 L-274.5,85.97 L-276,80.94 L-277.4,75.89 L-278.72,70.81Z" fill="#F06860"/>
<path d="M-247.46,62.61 L-246.29,67.12 L-245.04,71.61 L-243.71,76.07 L-255.55,79.73 L-256.95,75.05 L-258.26,70.34 L-259.48,65.61Z" fill="#F2786E"/>
<path d="M-229.53,57.44 L-228.45,61.63 L-227.29,65.79 L-226.06,69.93 L-236.82,73.25 L-238.11,68.91 L-239.33,64.55 L-240.47,60.17Z" fill="#F69D93"/>
<path d="M-279.59,93.61 L-277.86,98.7 L-276.03,103.76 L-274.11,108.78 L-287.32,113.97 L-289.34,108.7 L-291.25,103.4 L-293.07,98.06Z" fill="#F48D83"/>
<path d="M-260.55,87.41 L-258.94,92.16 L-257.23,96.87 L-255.45,101.56 L-267.4,106.25 L-269.27,101.35 L-271.06,96.41 L-272.75,91.44Z" fill="#F0625C"/>
<path d="M-242.16,80.93 L-240.65,85.34 L-239.07,89.72 L-237.41,94.08 L-248.94,98.6 L-250.69,94.04 L-252.35,89.45 L-253.92,84.82Z" fill="#F37E74"/>
<path d="M-224.62,74.44 L-223.22,78.53 L-221.75,82.59 L-220.21,86.63 L-230.7,90.74 L-232.31,86.51 L-233.85,82.26 L-235.31,77.97Z" fill="#F6A49A"/>
<path d="M-271.91,114.24 L-269.8,119.19 L-267.6,124.1 L-265.31,128.96 L-278.09,135.12 L-280.49,130.02 L-282.8,124.88 L-285.01,119.69Z" fill="#F48D83"/>
<path d="M-253.39,106.64 L-251.42,111.25 L-249.37,115.83 L-247.24,120.36 L-258.81,125.94 L-261.04,121.19 L-263.19,116.4 L-265.25,111.57Z" fill="#F0625C"/>
<path d="M-235.5,98.81 L-233.67,103.09 L-231.77,107.34 L-229.78,111.56 L-240.95,116.93 L-243.03,112.51 L-245.02,108.06 L-246.94,103.56Z" fill="#F37E74"/>
<path d="M-218.44,91.01 L-216.74,94.99 L-214.98,98.93 L-213.14,102.84 L-223.29,107.73 L-225.21,103.63 L-227.07,99.5 L-228.84,95.34Z" fill="#F6A49A"/>
<path d="M-262.7,134.24 L-260.22,139.02 L-257.66,143.75 L-255.02,148.43 L-267.31,155.53 L-270.08,150.62 L-272.77,145.66 L-275.36,140.66Z" fill="#F4877D"/>
<path d="M-244.81,125.29 L-242.5,129.74 L-240.12,134.14 L-237.65,138.51 L-248.77,144.93 L-251.35,140.36 L-253.85,135.75 L-256.27,131.09Z" fill="#EF5D57"/>
<path d="M-227.52,116.13 L-225.38,120.27 L-223.16,124.36 L-220.87,128.42 L-231.6,134.62 L-234.01,130.36 L-236.33,126.07 L-238.58,121.73Z" fill="#F2786E"/>
<path d="M-211.04,107.08 L-209.05,110.92 L-207,114.72 L-204.87,118.48 L-214.63,124.11 L-216.85,120.17 L-219.01,116.19 L-221.09,112.17Z" fill="#F6A49A"/>
<path d="M-252.02,153.5 L-249.2,158.08 L-246.29,162.61 L-243.3,167.08 L-255.03,175.07 L-258.16,170.39 L-261.21,165.64 L-264.17,160.85Z" fill="#F4877D"/>
<path d="M-234.86,143.23 L-232.23,147.5 L-229.52,151.72 L-226.73,155.88 L-237.34,163.12 L-240.26,158.76 L-243.1,154.34 L-245.85,149.88Z" fill="#EF5D57"/>
<path d="M-218.28,132.81 L-215.83,136.78 L-213.31,140.7 L-210.72,144.57 L-220.96,151.55 L-223.68,147.49 L-226.32,143.38 L-228.88,139.22Z" fill="#F2786E"/>
<path d="M-202.46,122.56 L-200.2,126.23 L-197.86,129.87 L-195.46,133.46 L-204.77,139.81 L-207.28,136.04 L-209.73,132.24 L-212.11,128.38Z" fill="#F6A89E"/>
<path d="M-239.93,171.91 L-236.78,176.27 L-233.54,180.56 L-230.22,184.8 L-241.32,193.65 L-244.8,189.21 L-248.19,184.7 L-251.5,180.14Z" fill="#839FD6"/>
<path d="M-223.6,160.39 L-220.65,164.44 L-217.64,168.45 L-214.55,172.4 L-224.59,180.4 L-227.82,176.27 L-230.98,172.08 L-234.06,167.83Z" fill="#7896D2"/>
<path d="M-207.81,148.75 L-205.07,152.53 L-202.27,156.25 L-199.4,159.91 L-209.09,167.64 L-212.1,163.79 L-215.04,159.89 L-217.9,155.94Z" fill="#839FD6"/>
<path d="M-192.76,137.34 L-190.22,140.84 L-187.62,144.29 L-184.95,147.7 L-193.76,154.72 L-196.55,151.15 L-199.28,147.54 L-201.93,143.87Z" fill="#A6BAE4"/>
<path d="M-226.51,189.36 L-223.03,193.47 L-219.48,197.51 L-215.86,201.49 L-226.26,211.14 L-230.06,206.97 L-233.78,202.74 L-237.42,198.43Z" fill="#9AB1E0"/>
<path d="M-211.08,176.65 L-207.84,180.48 L-204.54,184.24 L-201.16,187.95 L-210.57,196.68 L-214.11,192.81 L-217.57,188.86 L-220.96,184.86Z" fill="#7896D2"/>
<path d="M-196.18,163.87 L-193.17,167.43 L-190.09,170.93 L-186.96,174.37 L-196.04,182.8 L-199.33,179.19 L-202.55,175.52 L-205.71,171.79Z" fill="#839FD6"/>
<path d="M-181.97,151.37 L-179.18,154.66 L-176.32,157.91 L-173.41,161.11 L-181.67,168.77 L-184.72,165.42 L-187.71,162.02 L-190.63,158.56Z" fill="#A6BAE4"/>
<path d="M-211.81,205.77 L-208.04,209.6 L-204.2,213.37 L-200.29,217.06 L-209.94,227.46 L-214.04,223.59 L-218.07,219.65 L-222.02,215.63Z" fill="#7896D2"/>
<path d="M-197.39,191.94 L-193.87,195.51 L-190.29,199.02 L-186.65,202.46 L-195.38,211.87 L-199.2,208.27 L-202.95,204.6 L-206.63,200.86Z" fill="#7896D2"/>
<path d="M-183.45,178.08 L-180.18,181.4 L-176.86,184.66 L-173.47,187.86 L-181.9,196.94 L-185.45,193.59 L-188.94,190.17 L-192.36,186.68Z" fill="#7C9AD4"/>
<path d="M-170.16,164.54 L-167.13,167.62 L-164.05,170.65 L-160.91,173.61 L-168.57,181.87 L-171.86,178.76 L-175.09,175.59 L-178.26,172.37Z" fill="#A6BAE4"/>
<path d="M-195.93,221.02 L-191.88,224.56 L-187.77,228.03 L-183.6,231.42 L-192.45,242.52 L-196.82,238.97 L-201.13,235.33 L-205.38,231.62Z" fill="#9AB1E0"/>
<path d="M-182.59,206.15 L-178.82,209.45 L-174.99,212.69 L-171.1,215.85 L-179.1,225.89 L-183.17,222.58 L-187.19,219.2 L-191.13,215.74Z" fill="#7593D1"/>
<path d="M-169.7,191.29 L-166.19,194.36 L-162.63,197.36 L-159.01,200.3 L-166.74,209.99 L-170.53,206.91 L-174.27,203.76 L-177.94,200.54Z" fill="#839FD6"/>
<path d="M-157.4,176.8 L-154.15,179.64 L-150.85,182.43 L-147.5,185.15 L-154.52,193.96 L-158.03,191.11 L-161.49,188.19 L-164.9,185.21Z" fill="#A6BAE4"/>
<path d="M-178.96,235.05 L-174.66,238.28 L-170.3,241.43 L-165.88,244.5 L-173.87,256.23 L-178.5,253.01 L-183.07,249.71 L-187.58,246.32Z" fill="#8EA8DB"/>
<path d="M-166.77,219.23 L-162.76,222.24 L-158.7,225.17 L-154.58,228.03 L-161.82,238.64 L-166.13,235.65 L-170.38,232.57 L-174.57,229.42Z" fill="#7896D2"/>
<path d="M-155,203.44 L-151.27,206.24 L-147.49,208.96 L-143.67,211.62 L-150.65,221.86 L-154.66,219.07 L-158.62,216.21 L-162.53,213.28Z" fill="#87A3D8"/>
<path d="M-143.77,188.07 L-140.31,190.66 L-136.81,193.19 L-133.26,195.66 L-139.61,204.97 L-143.32,202.38 L-146.99,199.73 L-150.61,197.01Z" fill="#9FB5E1"/>
<path d="M-160.98,247.77 L-156.45,250.67 L-151.87,253.48 L-147.23,256.22 L-154.33,268.51 L-159.19,265.64 L-163.99,262.69 L-168.74,259.65Z" fill="#7C9AD4"/>
<path d="M-150.02,231.08 L-145.8,233.78 L-141.53,236.4 L-137.21,238.95 L-143.63,250.07 L-148.15,247.41 L-152.62,244.66 L-157.04,241.83Z" fill="#7896D2"/>
<path d="M-139.43,214.45 L-135.5,216.97 L-131.53,219.4 L-127.52,221.77 L-133.72,232.5 L-137.92,230.02 L-142.09,227.46 L-146.2,224.83Z" fill="#7C9AD4"/>
<path d="M-129.33,198.29 L-125.69,200.61 L-122,202.88 L-118.28,205.07 L-123.92,214.83 L-127.81,212.53 L-131.67,210.16 L-135.48,207.72Z" fill="#9FB5E1"/>
<path d="M-142.1,259.11 L-137.37,261.66 L-132.59,264.13 L-127.76,266.51 L-133.92,279.29 L-138.98,276.8 L-143.99,274.22 L-148.95,271.54Z" fill="#839FD6"/>
<path d="M-132.43,241.65 L-128.02,244.03 L-123.56,246.32 L-119.06,248.54 L-124.64,260.11 L-129.34,257.79 L-134.01,255.39 L-138.62,252.89Z" fill="#7896D2"/>
<path d="M-123.08,224.28 L-118.98,226.49 L-114.84,228.62 L-110.66,230.68 L-116.03,241.85 L-120.42,239.69 L-124.76,237.45 L-129.06,235.13Z" fill="#839FD6"/>
<path d="M-114.16,207.4 L-110.36,209.45 L-106.52,211.43 L-102.64,213.34 L-107.53,223.49 L-111.59,221.49 L-115.61,219.41 L-119.6,217.26Z" fill="#9FB5E1"/>
<path d="M-122.43,269.01 L-117.52,271.2 L-112.57,273.3 L-107.58,275.31 L-112.77,288.52 L-118,286.42 L-123.19,284.21 L-128.33,281.92Z" fill="#839FD6"/>
<path d="M-114.1,250.87 L-109.52,252.91 L-104.9,254.87 L-100.26,256.75 L-104.95,268.7 L-109.81,266.74 L-114.64,264.69 L-119.44,262.55Z" fill="#7593D1"/>
<path d="M-106.04,232.85 L-101.79,234.75 L-97.5,236.57 L-93.18,238.31 L-97.7,249.84 L-102.23,248.02 L-106.73,246.11 L-111.19,244.12Z" fill="#7C9AD4"/>
<path d="M-98.36,215.35 L-94.41,217.11 L-90.43,218.8 L-86.43,220.41 L-90.54,230.9 L-94.74,229.21 L-98.91,227.44 L-103.04,225.59Z" fill="#9FB5E1"/>
<path d="M-102.08,277.41 L-97.02,279.23 L-91.92,280.95 L-86.8,282.58 L-90.98,296.15 L-96.35,294.44 L-101.69,292.63 L-107,290.72Z" fill="#9FB5E1"/>
<path d="M-95.13,258.7 L-90.41,260.39 L-85.66,262 L-80.89,263.52 L-84.67,275.8 L-89.67,274.2 L-94.64,272.52 L-99.58,270.75Z" fill="#7593D1"/>
<path d="M-88.41,240.13 L-84.03,241.7 L-79.61,243.2 L-75.17,244.61 L-78.83,256.45 L-83.48,254.97 L-88.11,253.4 L-92.71,251.75Z" fill="#7896D2"/>
<path d="M-82.01,222.1 L-77.94,223.56 L-73.85,224.94 L-69.73,226.26 L-73.05,237.02 L-77.36,235.65 L-81.65,234.19 L-85.91,232.66Z" fill="#9AB1E0"/>
<path d="M-81.15,284.26 L-75.97,285.7 L-70.76,287.04 L-65.53,288.28 L-68.68,302.12 L-74.17,300.82 L-79.63,299.41 L-85.06,297.91Z" fill="#8EA8DB"/>
<path d="M-75.63,265.09 L-70.79,266.43 L-65.94,267.68 L-61.06,268.84 L-63.92,281.36 L-69.03,280.14 L-74.11,278.83 L-79.16,277.43Z" fill="#7896D2"/>
<path d="M-70.29,246.06 L-65.8,247.31 L-61.28,248.47 L-56.75,249.55 L-59.51,261.63 L-64.26,260.5 L-68.99,259.28 L-73.7,257.98Z" fill="#839FD6"/>
<path d="M-65.19,227.6 L-61.03,228.76 L-56.84,229.83 L-52.64,230.83 L-55.15,241.82 L-59.55,240.77 L-63.94,239.64 L-68.3,238.43Z" fill="#9AB1E0"/>
<path d="M-59.77,289.54 L-54.49,290.58 L-49.2,291.53 L-43.89,292.38 L-46,306.41 L-51.57,305.52 L-57.12,304.53 L-62.65,303.44Z" fill="#87A3D8"/>
<path d="M-55.7,270 L-50.78,270.98 L-45.85,271.86 L-40.9,272.65 L-42.81,285.35 L-47.99,284.52 L-53.16,283.6 L-58.31,282.58Z" fill="#7593D1"/>
<path d="M-51.77,250.63 L-47.2,251.53 L-42.61,252.35 L-38.01,253.09 L-39.86,265.34 L-44.68,264.57 L-49.49,263.71 L-54.28,262.76Z" fill="#7492D0"/>
<path d="M-48.02,231.84 L-43.78,232.68 L-39.53,233.44 L-35.26,234.12 L-36.94,245.26 L-41.41,244.55 L-45.86,243.75 L-50.3,242.87Z" fill="#9AB1E0"/>
<path d="M-38.06,293.2 L-32.72,293.84 L-27.37,294.39 L-22.01,294.84 L-23.07,309 L-28.68,308.53 L-34.29,307.95 L-39.89,307.27Z" fill="#8AA4D9"/>
<path d="M-35.46,273.41 L-30.49,274.02 L-25.5,274.53 L-20.51,274.95 L-21.47,287.75 L-26.7,287.31 L-31.92,286.78 L-37.12,286.15Z" fill="#7896D2"/>
<path d="M-32.96,253.8 L-28.34,254.36 L-23.7,254.84 L-19.06,255.23 L-19.99,267.58 L-24.85,267.17 L-29.71,266.68 L-34.56,266.09Z" fill="#7C9AD4"/>
<path d="M-30.57,234.78 L-26.28,235.3 L-21.98,235.74 L-17.68,236.1 L-18.52,247.34 L-23.03,246.96 L-27.53,246.5 L-32.03,245.95Z" fill="#8EA8DB"/>
<path d="M-16.13,295.23 L-10.76,295.47 L-5.38,295.62 L-0,295.67 L-0,309.86 L-5.64,309.81 L-11.27,309.66 L-16.91,309.4Z" fill="#8EA8DB"/>
<path d="M-15.03,275.3 L-10.02,275.53 L-5.01,275.67 L-0,275.72 L-0,288.56 L-5.25,288.51 L-10.49,288.37 L-15.73,288.13Z" fill="#7492D0"/>
<path d="M-13.97,255.56 L-9.32,255.77 L-4.66,255.9 L-0,255.94 L-0,268.33 L-4.88,268.29 L-9.77,268.15 L-14.65,267.93Z" fill="#7896D2"/>
<path d="M-12.96,236.41 L-8.64,236.61 L-4.32,236.73 L-0,236.77 L-0,248.03 L-4.53,247.99 L-9.05,247.86 L-13.57,247.66Z" fill="#7896D2"/>
</g>
<g font-family="Liberation Sans, sans-serif" font-size="20.3" fill="#000" stroke="#000" stroke-width="0.25" text-anchor="end">
<text transform="translate(-13.45,-316.17) rotate(90)" dy="0.358em">AC083862.1</text>
<text transform="translate(-37.85,-314.15) rotate(85.61)" dy="0.358em">H3C10</text>
<text transform="translate(-62.93,-313.37) rotate(81.22)" dy="0.358em">HSPA8P5</text>
<text transform="translate(-84.08,-306.35) rotate(76.83)" dy="0.358em">AC006160.1</text>
<text transform="translate(-107.97,-299.01) rotate(72.44)" dy="0.358em">SLC16A1</text>
<text transform="translate(-130.88,-292.29) rotate(68.05)" dy="0.358em">PPP1R2P1</text>
<text transform="translate(-147.27,-282.46) rotate(63.66)" dy="0.358em">ARAP2</text>
<text transform="translate(-166.63,-273.06) rotate(59.27)" dy="0.358em">LINC01138</text>
<text transform="translate(-187.25,-258.46) rotate(54.88)" dy="0.358em">AC069439.2</text>
<text transform="translate(-208.04,-245.44) rotate(50.49)" dy="0.358em">ARIH2OS</text>
<text transform="translate(-226.48,-228.09) rotate(46.1)" dy="0.358em">H4C15</text>
<text transform="translate(-240.61,-209.29) rotate(41.71)" dy="0.358em">C10orf105</text>
<text transform="translate(-254.34,-187.04) rotate(37.32)" dy="0.358em">DAPP1</text>
<text transform="translate(-268.22,-170.75) rotate(32.93)" dy="0.358em">SAP130</text>
<text transform="translate(-284.84,-151.23) rotate(28.54)" dy="0.358em">UPF2</text>
<text transform="translate(-295.95,-124.99) rotate(24.15)" dy="0.358em">DCLRE1C</text>
<text transform="translate(-299.34,-102.76) rotate(19.76)" dy="0.358em">RNASEL</text>
<text transform="translate(-306.2,-79.96) rotate(15.37)" dy="0.358em">UHRF1BP1</text>
<text transform="translate(-314.43,-55.61) rotate(10.98)" dy="0.358em">PAX9</text>
<text transform="translate(-318.58,-32.06) rotate(6.59)" dy="0.358em">NUP160</text>
<text transform="translate(-322.27,-6.62) rotate(2.2)" dy="0.358em">PSEN1</text>
<text transform="translate(-321.14,19.67) rotate(357.8)" dy="0.358em">B3GNT3</text>
<text transform="translate(-320,41.88) rotate(353.41)" dy="0.358em">KEAP1</text>
<text transform="translate(-315.28,64.87) rotate(349.02)" dy="0.358em">MID1</text>
<text transform="translate(-309.7,89.31) rotate(344.63)" dy="0.358em">NDOR1</text>
<text transform="translate(-300.33,111.97) rotate(340.24)" dy="0.358em">SPON2</text>
<text transform="translate(-290.26,134.02) rotate(335.85)" dy="0.358em">KANSL3</text>
<text transform="translate(-279.61,156.05) rotate(331.46)" dy="0.358em">SNX27</text>
<text transform="translate(-266.04,173.54) rotate(327.07)" dy="0.358em">OTUD7B</text>
<text transform="translate(-256.76,195.56) rotate(322.68)" dy="0.358em">WDHD1</text>
<text transform="translate(-240.42,214.01) rotate(318.29)" dy="0.358em">DNA2</text>
<text transform="translate(-223.89,232.59) rotate(313.9)" dy="0.358em">SDC3</text>
<text transform="translate(-205.04,243.49) rotate(309.51)" dy="0.358em">SNHG30</text>
<text transform="translate(-187.16,260.74) rotate(305.12)" dy="0.358em">WDR12</text>
<text transform="translate(-166.09,275.14) rotate(300.73)" dy="0.358em">SACS</text>
<text transform="translate(-145.15,283.03) rotate(296.34)" dy="0.358em">CORO6</text>
<text transform="translate(-122.94,291.94) rotate(291.95)" dy="0.358em">AADAT</text>
<text transform="translate(-104.66,295.61) rotate(287.56)" dy="0.358em">AC073857.1</text>
<text transform="translate(-81.88,308.69) rotate(283.17)" dy="0.358em">ESCO2</text>
<text transform="translate(-59.82,311.15) rotate(278.78)" dy="0.358em">SEPTIN1</text>
<text transform="translate(-32.8,318.06) rotate(274.39)" dy="0.358em">DDX11-AS1</text>
<text transform="translate(-7.03,320.6) rotate(268)" dy="0.358em">PITPNA-AS1</text>
</g>
<g stroke="#222" stroke-width="1">
<line x1="-5.7" y1="-307.9" x2="19.07" y2="-323.6"/>
<line x1="-5.08" y1="-286.3" x2="19.88" y2="-302.5"/>
<line x1="-4.72" y1="-266.9" x2="19.88" y2="-282.6"/>
<line x1="-4.72" y1="-248.3" x2="19.88" y2="-263.7"/>
</g>
<g font-family="Liberation Sans, sans-serif" font-weight="bold" font-size="23.9" fill="#111">
<text x="22.46" y="-319.7">IFNλ3</text>
<text x="22.46" y="-297.25">IFNα14</text>
<text x="22.46" y="-274.3">IFNα4</text>
<text x="22.46" y="-251.9">IFNα5</text>
</g>
</g>
<g font-family="Liberation Sans, sans-serif" font-size="23.4" fill="#000" stroke="#000" stroke-width="0.25">
<rect x="804.3" y="133.1" width="19.6" height="18.4" fill="#ED1C24" stroke="#222" stroke-width="1"/>
<text x="832.5" y="149">biological adhesion</text>
<rect x="804.3" y="171.9" width="19.6" height="18.4" fill="#F37021" stroke="#222" stroke-width="1"/>
<text x="832.5" y="191">biological regulation</text>
<rect x="804.3" y="211.6" width="19.6" height="18.4" fill="#FFDD00" stroke="#222" stroke-width="1"/>
<text x="832.5" y="229">cellular processes</text>
<rect x="804.3" y="247.6" width="19.6" height="18.4" fill="#BAD532" stroke="#222" stroke-width="1"/>
<text x="832.5" y="267">developmental processes</text>
<rect x="804.3" y="285.7" width="19.6" height="18.4" fill="#76BC44" stroke="#222" stroke-width="1"/>
<text x="832.5" y="305">localization</text>
<rect x="804.3" y="321.3" width="19.6" height="18.4" fill="#63B946" stroke="#222" stroke-width="1"/>
<text x="832.5" y="340">locomotion</text>
<rect x="804.3" y="362.7" width="19.6" height="18.4" fill="#6DC07C" stroke="#222" stroke-width="1"/>
<text x="832.5" y="382">metabolic processes</text>
<rect x="804.3" y="401.6" width="19.6" height="18.4" fill="#60C8DC" stroke="#222" stroke-width="1"/>
<text x="832.5" y="421">response to stimulus</text>
<rect x="804.3" y="440.7" width="19.6" height="18.4" fill="#3F8ACA" stroke="#222" stroke-width="1"/>
<text x="832.5" y="459">immune responses</text>
<rect x="804.3" y="478.8" width="19.6" height="18.4" fill="#3953A4" stroke="#222" stroke-width="1"/>
<text x="832.5" y="498">transcription regulation</text>
<rect x="804.3" y="517.7" width="19.6" height="18.4" fill="#4B4DA0" stroke="#222" stroke-width="1"/>
<text x="832.5" y="535">autophagy</text>
<rect x="804.3" y="557.1" width="19.6" height="18.4" fill="#8750A0" stroke="#222" stroke-width="1"/>
<text x="832.5" y="574">signal transduction</text>
<rect x="804.3" y="590" width="19.6" height="18.4" fill="#C9499A" stroke="#222" stroke-width="1"/>
<text x="832.5" y="609">lncRNA</text>
<rect x="804.3" y="628.9" width="19.6" height="18.4" fill="#ED1B72" stroke="#222" stroke-width="1"/>
<text x="832.5" y="646">none</text>
</g>
<defs><linearGradient id="fcg" x1="0" x2="1" y1="0" y2="0"><stop offset="0" stop-color="#7896D2"/><stop offset="0.2" stop-color="#A3B8E2"/><stop offset="0.38" stop-color="#D3E4F5"/><stop offset="0.46" stop-color="#E6F5FC"/><stop offset="0.5" stop-color="#F4F7F4"/><stop offset="0.55" stop-color="#FBE6E0"/><stop offset="0.7" stop-color="#F7B5AA"/><stop offset="0.85" stop-color="#F27C72"/><stop offset="1" stop-color="#EE4043"/></linearGradient></defs>
<rect x="799.7" y="719" width="101.7" height="20.2" fill="url(#fcg)"/>
<rect x="799.7" y="728" width="1.3" height="2.4" fill="#fff"/><rect x="900.1" y="728" width="1.3" height="2.4" fill="#fff"/>
<g font-family="Liberation Sans, sans-serif" font-size="23.3" fill="#000">
<text x="834" y="710.4">FC</text>
<text x="798.5" y="765.5" text-anchor="middle">-2</text>
<text x="852.1" y="765.5" text-anchor="middle">0</text>
<text x="900.7" y="765.5" text-anchor="middle">2</text>
</g>
</svg>
</body></html>
